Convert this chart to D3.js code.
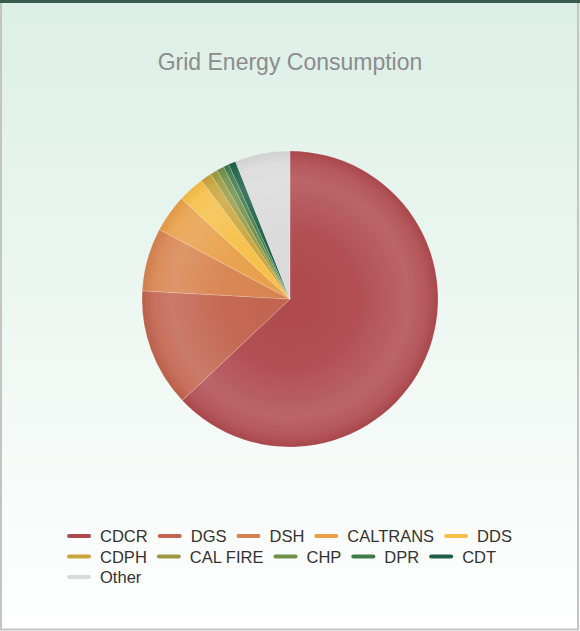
<!DOCTYPE html>
<html><head><meta charset="utf-8">
<script src="https://cdn.jsdelivr.net/npm/d3@7"></script>
<style>
html,body{margin:0;padding:0;background:#fff;}
svg{display:block;font-family:"Liberation Sans",Arial,sans-serif;}
</style></head>
<body>
<svg id="chart" width="580" height="631"></svg>
<script>
const categories = ["CDCR","DGS","DSH","CALTRANS","DDS","CDPH","CAL FIRE","CHP","DPR","CDT","Other"];
const values = [62.9, 12.9, 6.9, 4.1, 2.9, 1.2, 0.8, 0.8, 0.6, 0.8, 6.0];
const colors = ["#af4a4e","#c2644f","#d8834f","#e89f4a","#f6bf47","#c9a53b","#9b9a42","#6f8f47","#3f7b4a","#1f5f46","#dadada"];
const title = "Grid Energy Consumption";

const W = 580, H = 631;
const svg = d3.select("#chart");
const defs = svg.append("defs");

// background card
const bg = defs.append("linearGradient").attr("id","bg").attr("x1",0).attr("y1",0).attr("x2",0).attr("y2",1);
bg.append("stop").attr("offset","0%").attr("stop-color","#dcefe6");
bg.append("stop").attr("offset","100%").attr("stop-color","#ffffff");
svg.append("rect").attr("x",0).attr("y",0).attr("width",W).attr("height",H).attr("fill","url(#bg)");
svg.append("rect").attr("x",1).attr("y",0.5).attr("width",W-3).attr("height",H-2)
  .attr("fill","none").attr("stroke","#c4c4c4").attr("stroke-width",2);
svg.append("rect").attr("x",0).attr("y",0).attr("width",W).attr("height",3).attr("fill","#3c5b50");

// title
svg.append("text").attr("x",290).attr("y",70).attr("text-anchor","middle")
  .attr("font-size",23).attr("fill","#8c8c8c").text(title);

// pie
const cx = 290, cy = 299, R = 148;
const data = categories.map((c,i)=>({name:c, value:values[i], color:colors[i]}));
const pie = d3.pie().sort(null).value(d=>d.value);
const arc = d3.arc().innerRadius(0).outerRadius(R);
const g = svg.append("g").attr("transform",`translate(${cx},${cy})`);

data.forEach((d,i)=>{
  const base = d.color;
  const light = d3.interpolateRgb(base, "#ffffff");
  const dark = d3.interpolateRgb(base, "#000000");
  const gr = defs.append("radialGradient").attr("id","pg"+i)
    .attr("gradientUnits","userSpaceOnUse").attr("cx",0).attr("cy",0).attr("r",R);
  gr.append("stop").attr("offset","0%").attr("stop-color",base);
  gr.append("stop").attr("offset","45%").attr("stop-color",light(0.03));
  gr.append("stop").attr("offset","80%").attr("stop-color",light(0.15));
  gr.append("stop").attr("offset","92%").attr("stop-color",light(0.08));
  gr.append("stop").attr("offset","100%").attr("stop-color",dark(0.04));
});

g.selectAll("path").data(pie(data)).join("path")
  .attr("d",arc)
  .attr("fill",(d,i)=>`url(#pg${i})`)
  .attr("stroke","rgba(255,255,255,0.3)")
  .attr("stroke-width",0.6)
  .attr("stroke-linejoin","round");

// legend
const legend = svg.append("g");
const fs = 16.5, symW = 22, symGap = 10, itemGap = 11, rowH = 20.5, maxW = 470;
const items = data.map(d=>{
  const it = legend.append("g");
  it.append("line").attr("x1",1).attr("x2",symW-1).attr("y1",0).attr("y2",0)
    .attr("stroke",d.color).attr("stroke-width",4).attr("stroke-linecap","round");
  const t = it.append("text").attr("x",symW+symGap).attr("y",6).attr("font-size",fs).attr("fill","#333333").text(d.name);
  return {g:it, w: symW+symGap+t.node().getComputedTextLength()};
});
const rows = [[]]; let cur = 0;
items.forEach(it=>{
  const add = (rows[rows.length-1].length? itemGap:0) + it.w;
  if (cur + add > maxW && rows[rows.length-1].length){ rows.push([it]); cur = it.w; }
  else { rows[rows.length-1].push(it); cur += add; }
});
const rowWidths = rows.map(r=>r.reduce((s,it,k)=>s+it.w+(k?itemGap:0),0));
const boxW = d3.max(rowWidths);
const x0 = 290 - boxW/2;
rows.forEach((r,ri)=>{
  let x = x0;
  r.forEach(it=>{ it.g.attr("transform",`translate(${x},${536+ri*rowH})`); x += it.w + itemGap; });
});
</script>
</body></html>
